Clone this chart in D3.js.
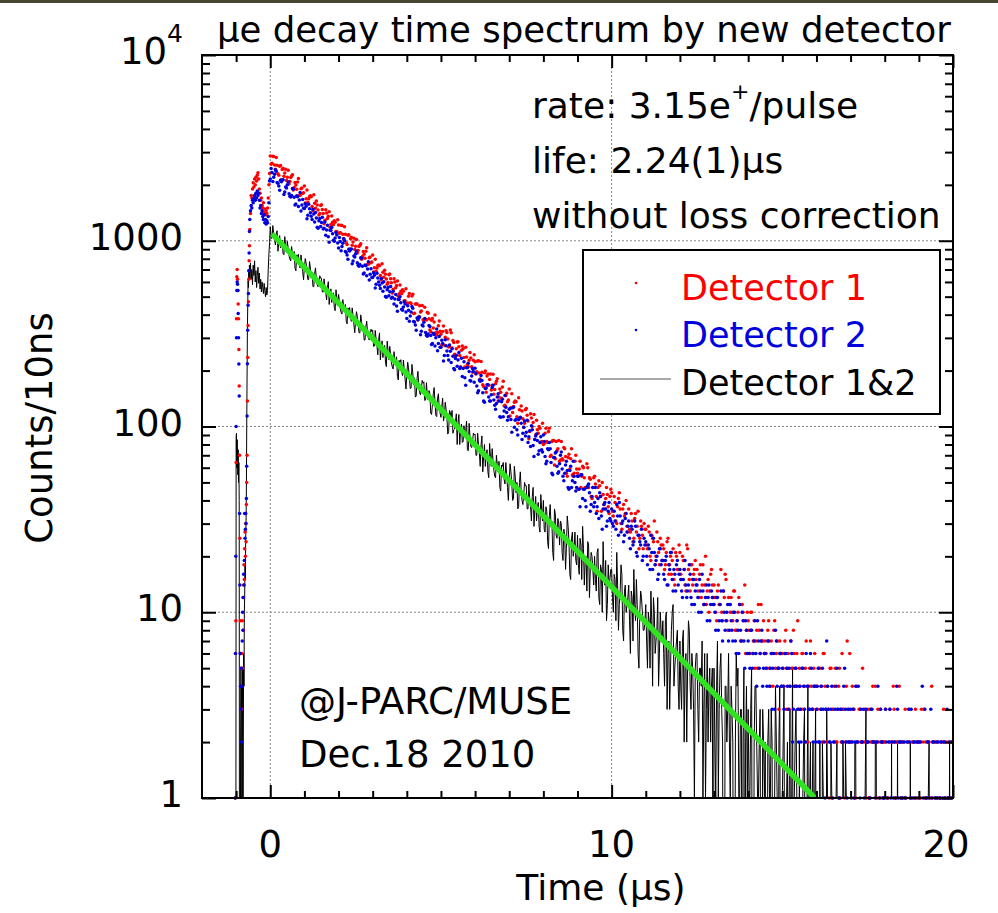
<!DOCTYPE html>
<html><head><meta charset="utf-8">
<script src="https://cdn.jsdelivr.net/npm/d3@7"></script>
<style>body{margin:0;background:#fff;} svg{display:block;font-family:"DejaVu Sans","Open Sans",sans-serif;}</style>
</head><body><svg id="c" width="998" height="913"></svg>
<script>
// ---------- data ----------
const promptT = [-1.04,-1.03,-1.02,-1.01,-1.00,-0.99,-0.98,-0.97,-0.96,-0.95,-0.94,-0.93,-0.92,-0.91,-0.90,
 -0.89,-0.88,-0.87,-0.86,-0.85,-0.84,-0.83,-0.82,-0.81,-0.80,-0.79,-0.78,-0.77,-0.76,-0.75,
 -0.74,-0.73,-0.72,-0.71,-0.70,-0.69,-0.68,-0.67,-0.66,-0.65,-0.64,-0.63,-0.62,-0.61,-0.60,
 -0.58,-0.56,-0.54,-0.52,-0.50,-0.48,-0.46,-0.44,-0.42,-0.40,-0.38,-0.36,-0.34,-0.32,-0.30,
 -0.28,-0.26,-0.24,-0.22,-0.20,-0.18,-0.16,-0.14,-0.12,-0.10,-0.08,-0.06,-0.04,-0.02];
const promptRed = [0,0,1,9,64, 380,640,700,620,540, 456,380,260,165,70, 25,9,6,4,5, 3,6,9,5,12,
 8,14,18,15,22, 27,20,30,24,38, 50,70,137,235,350, 470,620,780,940,1150,
 1400,1750,1700,1900,2050, 1950,2150,2000,2200,2100, 2250,2320,2150,1900,1800,
 1650,1700,1550,1500,1600, 1420,1480,1380,1450,1400, 1500,1700,2000,2300];
const promptBlue = [0,1,6,20,100, 300,540,600,583,540, 406,300,217,146,34, 14,6,4,3,5, 2,4,7,10,8,
 12,16,14,19,34, 25,28,34,30,41, 61,114,218,330,450, 520,690,860,1120,1300,
 1450,1550,1500,1650,1600, 1700,1750,1650,1800,1700, 1850,1750,1800,1650,1500,
 1550,1400,1450,1350,1300, 1380,1250,1300,1230,1280, 1250,1350,1600,2100];
const promptBlack = [0,0,0,0,88, 92,60,85,70,55, 75,50,64,40,0, 0,0,2,5,3, 4,0,3,5,0,
 2,6,4,10,12, 18,15,25,30,45, 100,180,330,450,610, 560,690,640,740,620,
 760,620,700,580,740, 650,780,600,690,560, 650,720,590,670,550,
 620,530,600,560,520, 590,540,500,560,510, 540,700,850,980];

// decay part: two interleaved samplings (t = 0, 0.05, ... and t = 0.025, 0.075, ...)
const decayT0 = 0, decayT0b = 0.025, decayDt = 0.05;
const decayRed = [
 2860,2611,2846,2424,2549,2249,2540,2415,2225,2427, 2198,2021,2191,2269,1936,1995,2070,1758,1908,1794,
 1971,1684,1614,1731,1727,1449,1592,1636,1465,1404, 1563,1402,1289,1411,1355,1183,1361,1220,1256,1121,
 1215,1109,1209,1029,1083,955,1078,1025,945,1030, 934,858,930,964,823,847,879,747,810,761,
 837,715,685,735,734,616,676,694,622,596, 663,595,548,599,575,502,578,518,534,476,
 460,502,464,504,406,457,457,391,413,448, 376,378,412,380,324,382,365,320,321,370,
 314,325,274,328,296,270,320,290,245,262, 286,241,257,262,209,237,210,250,210,227,
 223,197,226,180,196,164,199,187,167,192, 167,149,170,181,144,153,163,129,147,136,
 159,126,119,135,136,104,123,129,110,104, 125,107,94,111,105,85,108,92,98,83,
 80,92,83,94,69,83,84,67,74,84, 66,67,77,69,54,71,67,55,56,70,
 56,59,47,61,53,47,60,53,42,47, 54,42,47,48,35,43,36,47,37,42,
 44,33,39,30,41,36,28,38,34,29, 36,27,31,25,34,29,22,31,26,30,
 28,22,27,19,25,31,20,24,18,23, 23,17,21,25,18,16,22,14,20,17,
 21,15,19,14,23,17,13,18,16,19, 17,12,18,14,11,20,13,10,16,14,
 14,10,13,11,17,9,12,15,8,11, 12,9,13,8,10,11,7,10,14,8,
 9,6,10,7,5,8,11,6,7,9, 7,5,9,4,6,8,5,7,3,6,
 6,4,8,5,3,7,5,6,4,9, 5,3,6,4,7,2,5,4,3,6,
 4,2,5,3,6,4,2,3,5,1, 3,5,2,4,1,6,3,2,7,3,
 2,4,3,1,0,3,2,5,2,1, 3,1,2,4,2,0,3,1,2,2,
 2,0,1,3,2,4,1,2,0,2, 1,2,3,0,2,1,2,0,3,1,
 2,1,0,3,2,1,2,0,1,2, 0,2,1,2,0,1,2,1,0,2];
const decayRedB = [
 2585,2849,2555,2807,2297,2518,2130,2460,2316,2109, 2394,2086,2230,1875,2056,1895,2164,1759,1925,1812,
 1596,1874,1682,1746,1529,1768,1497,1558,1374,1550, 1474,1233,1467,1316,1432,1222,1258,1281,1122,1298,
 1098,1210,1085,1191,976,1069,904,1044,984,896, 1017,886,947,796,874,804,918,747,817,769,
 678,796,714,741,650,751,636,661,583,657, 625,524,624,559,608,519,534,544,476,551,
 462,520,459,515,407,457,374,447,418,376, 439,374,407,331,373,339,398,312,349,326,
 275,348,302,321,268,331,265,283,239,285, 269,210,271,235,267,216,227,234,196,243,
 192,225,194,224,168,195,153,192,179,157, 191,158,175,137,159,142,175,130,151,139,
 114,150,128,137,113,143,111,121,99,123, 115,86,117,100,116,90,96,100,82,104,
 81,98,82,98,70,84,62,83,76,65, 83,66,76,56,68,59,76,54,65,59,
 46,65,54,60,47,63,47,52,41,53, 49,35,51,42,50,38,41,43,34,46,
 35,42,31,37,44,30,36,33,40,27, 28,34,24,32,27,35,25,29,22,28,
 23,29,20,26,24,18,27,21,25,19, 22,18,24,16,20,19,15,21,17,23,
 16,20,17,13,22,15,18,14,17,15, 13,16,12,18,14,11,15,13,17,12,
 12,9,14,11,10,13,16,9,12,10, 10,13,8,9,12,7,11,9,6,10,
 8,10,6,9,7,5,8,11,7,6, 6,8,5,7,4,9,6,5,7,4,
 5,7,3,6,4,5,8,4,6,3, 4,6,3,5,2,4,7,3,5,4,
 3,5,4,2,6,3,4,1,5,3, 4,2,3,5,2,3,1,4,2,6,
 2,3,1,4,2,3,2,0,3,2, 1,3,2,2,4,1,2,3,1,2,
 3,1,2,0,2,3,1,2,4,1, 2,1,0,2,3,1,2,1,2,0,
 1,3,2,1,0,2,1,4,2,1, 2,0,1,2,3,1,0,2,1,2];
const decayBlue = [
 2151,2334,2195,2411,2059,1974,2118,2114,1773,1947, 2000,1792,1718,1912,1715,1577,1726,1656,1447,1665,
 1493,1536,1371,1486,1356,1479,1260,1325,1168,1319, 1255,1156,1260,1141,1050,1138,1178,1005,1036,1075,
 914,991,932,1024,875,838,899,897,752,827, 850,761,730,811,729,670,733,704,614,706,
 634,652,583,631,576,627,535,563,496,560, 532,491,535,485,445,483,500,428,440,456,
 381,422,394,442,368,352,384,385,312,352, 364,321,306,350,309,280,313,300,256,305,
 267,280,241,272,241,275,221,239,202,242, 228,205,233,205,183,207,219,177,187,198,
 206,165,156,175,177,137,160,168,144,137, 162,139,124,144,137,112,140,121,127,108,
 124,109,126,99,109,90,111,104,92,107, 93,82,95,101,79,85,91,71,82,75,
 90,69,65,75,76,56,68,72,61,57, 70,59,51,62,58,46,61,51,54,45,
 54,46,55,41,46,37,48,44,38,47, 39,34,41,44,33,36,39,29,35,32,
 36,29,31,38,26,33,30,24,32,27, 31,22,28,24,29,20,26,23,19,25,
 24,18,22,26,17,21,19,15,22,18, 19,15,20,14,17,21,13,16,18,14,
 17,13,15,19,12,14,16,11,15,13, 14,10,13,16,11,12,9,14,11,12,
 11,8,12,9,13,7,10,9,11,8, 9,7,10,6,8,11,7,9,5,8,
 7,5,8,6,9,4,7,6,8,5, 6,4,7,5,3,6,8,4,5,6,
 5,3,6,4,5,7,2,4,5,3, 4,2,5,3,6,4,3,5,2,4,
 3,5,2,4,3,1,7,3,2,4, 2,3,5,1,3,2,4,3,1,2,
 3,2,1,4,2,0,3,2,1,3, 2,1,3,2,0,2,4,1,2,1,
 1,2,0,3,2,1,2,4,1,2, 2,0,1,2,3,1,0,2,1,2,
 1,2,4,0,1,2,1,3,2,0, 2,1,0,2,1,2,0,1,2,1];
const decayBlueB = [
 2452,2083,2282,2364,2037,1870,2075,2131,1832,1926, 2072,1737,1752,1891,1560,1745,1527,1816,1557,1494,
 1582,1313,1574,1414,1300,1395,1418,1181,1283,1193, 1338,1167,1072,1211,983,1137,1090,995,1107,973,
 1042,884,969,1004,866,794,881,904,778,818, 880,737,744,804,662,740,648,772,661,634,
 672,557,668,600,553,592,602,501,544,506, 568,496,456,514,417,483,463,423,470,413,
 447,369,414,433,365,330,375,389,326,348, 381,310,315,345,276,318,271,335,280,267,
 291,225,293,255,228,254,262,205,232,211, 250,208,186,223,167,208,198,176,205,173,
 193,152,178,188,152,135,161,168,137,148, 167,130,133,150,113,136,113,147,119,113,
 125,93,127,108,96,109,112,85,99,89, 108,88,78,96,69,89,84,74,88,73,
 83,63,76,82,64,55,68,73,56,63, 73,54,56,65,47,58,47,65,50,47,
 54,37,55,46,40,47,49,35,42,37, 47,37,32,42,28,38,36,31,39,31,
 30,35,28,33,39,27,31,26,34,29, 25,29,23,31,21,26,24,28,20,23,
 20,23,17,21,25,18,20,16,22,19, 16,19,14,18,21,15,17,13,19,16,
 15,12,17,14,13,18,12,15,11,14, 12,15,10,13,11,14,12,9,13,11,
 10,12,8,11,9,13,8,10,7,11, 8,10,7,9,6,8,10,7,9,6,
 6,8,5,7,6,9,5,7,4,6, 5,7,4,6,5,3,7,5,6,4,
 4,6,5,3,4,6,3,5,4,2, 3,5,4,2,4,3,6,3,4,2,
 4,2,3,5,2,3,4,2,3,1, 2,4,3,1,3,2,5,2,3,2,
 1,3,2,2,4,1,2,3,0,2, 2,1,3,2,1,2,0,3,2,1,
 3,1,2,1,0,2,1,3,2,1, 1,2,1,0,2,3,1,2,0,2,
 2,0,1,3,1,2,0,1,2,1, 1,2,1,0,2,1,3,1,0,2];
const decayBlack = [
 1192,1036,1087,949,1132,978,917,1003,841,940, 992,830,779,854,876,689,822,743,839,682,
 718,758,618,773,632,566,667,621,566,648, 628,529,568,480,602,506,465,524,420,491,
 514,430,403,442,454,357,426,385,435,353, 371,392,320,399,326,292,345,321,292,334,
 331,271,296,243,319,262,235,273,210,256, 270,220,204,228,237,178,222,197,228,180,
 192,207,160,216,167,144,181,167,148,177, 174,139,148,156,118,131,162,115,142,126,
 112,142,114,124,91,122,112,92,97,117, 105,80,103,83,88,107,74,89,77,92,
 91,70,80,61,89,69,61,75,53,69, 76,58,53,62,65,45,61,52,64,47,
 52,57,40,61,44,36,50,45,38,50, 48,36,41,31,47,36,31,39,27,36,
 40,27,35,22,38,31,19,34,25,30, 31,21,28,17,33,24,15,27,22,19,
 26,16,23,29,14,20,24,12,21,17, 20,13,22,11,17,24,14,9,18,15,
 17,10,15,21,8,13,16,7,14,11, 14,6,12,17,9,11,5,13,10,8,
 11,5,9,13,4,10,7,12,6,8, 9,4,10,6,3,8,11,5,7,4,
 7,3,8,5,2,9,4,6,3,5, 6,2,5,7,3,1,6,4,2,5,
 5,1,7,3,6,2,0,4,3,2, 4,2,0,6,5,1,3,2,0,4,
 3,1,5,0,4,2,1,3,0,2, 2,0,3,1,2,0,4,1,2,0,
 1,4,0,2,1,0,5,1,3,0, 2,0,1,3,0,4,1,0,2,1,
 0,1,2,0,1,0,3,1,0,1, 1,0,2,1,0,0,1,2,0,1,
 0,1,0,2,1,0,0,1,0,3, 1,0,0,1,0,2,0,1,0,0,
 0,1,0,0,2,0,1,0,0,1, 0,0,1,0,0,2,0,0,1,0,
 1,0,0,0,1,0,2,0,0,1, 0,0,1,0,0,0,1,0,2,0];
const decayBlackB = [
 1025,1207,1023,1084,878,1066,975,850,1053,867, 911,796,931,811,713,840,845,713,756,616,
 802,688,619,712,676,566,715,579,595,629, 530,624,529,560,454,551,504,439,545,448,
 472,412,482,419,369,435,437,368,392,320, 415,355,319,367,349,292,369,298,308,325,
 270,329,272,293,228,289,261,222,288,229, 245,209,253,216,186,227,229,188,203,159,
 222,184,161,194,183,146,198,152,159,171, 138,172,139,151,116,150,135,113,150,118,
 128,107,135,112,94,119,122,96,106,80, 116,95,82,101,95,75,104,78,83,90,
 70,92,72,80,57,80,70,57,81,61, 66,54,70,57,47,62,64,49,55,40,
 63,49,41,54,50,37,57,40,43,48, 36,49,37,42,29,42,36,29,43,31,
 28,37,24,33,29,21,36,26,32,23, 30,19,26,22,29,16,25,20,27,18,
 18,25,15,22,19,13,23,17,20,14, 15,21,12,18,10,16,19,11,14,17,
 12,16,9,14,11,18,8,13,10,12, 9,13,7,11,15,6,10,12,8,9,
 7,10,5,9,12,6,8,4,10,7, 6,9,3,7,5,10,4,6,8,3,
 4,7,2,6,5,8,3,5,1,6, 3,5,4,1,6,3,2,5,4,0,
 2,4,1,5,3,0,4,2,6,1, 3,0,2,4,1,3,0,5,2,1,
 1,3,0,2,4,1,2,0,3,1, 0,2,1,3,0,1,2,0,4,1,
 2,0,1,0,3,1,0,2,1,0, 0,1,2,0,1,0,2,1,0,3,
 1,0,0,2,1,0,1,0,2,0, 0,1,0,1,0,2,0,1,0,1,
 1,0,2,0,0,1,0,0,1,0, 0,0,1,0,2,0,0,1,0,1,
 0,1,0,0,0,1,0,2,0,0, 1,0,0,1,0,0,0,1,0,0,
 0,0,1,0,0,1,0,0,0,1, 0,1,0,0,0,0,1,0,0,0];

const fitT = [0.05, 15.95];          // exponential fit (straight on log axis)
const fitV = [1090, 1];

const xMajorTicks = [0, 10, 20];
const xTickLabels = ["0", "10", "20"];
const yMajorTicks = [1, 10, 100, 1000, 10000];
const yTickLabels = ["1", "10", "100", "1000", "10^4"];

const seriesNames = ["Detector 1", "Detector 2", "Detector 1&2"];
const infoLines = ["rate: 3.15e", "life: 2.24(1)\u03bcs", "without loss correction"];
const stampLines = ["@J-PARC/MUSE", "Dec.18 2010"];

// ---------- build ----------
const svg = d3.select("#c");
const L = 202, R = 953, T = 55, B = 798;
const x = d3.scaleLinear().domain([-2, 20]).range([L, R]);
const y = d3.scaleLog().domain([1, 10000]).range([B, T]);

const toPts = (ts, vs) => vs.map((v, i) => ({t: ts[i], v}));
const timesA = decayRed.map((_, i) => +(decayT0 + i * decayDt).toFixed(3));
const timesB = decayRedB.map((_, i) => +(decayT0b + i * decayDt).toFixed(3));
const byT = (a, b) => a.t - b.t;
const redPts = toPts(promptT, promptRed).concat(toPts(timesA, decayRed), toPts(timesB, decayRedB));
const bluePts = toPts(promptT, promptBlue).concat(toPts(timesA, decayBlue), toPts(timesB, decayBlueB));
const blackPts = toPts(promptT, promptBlack).concat(toPts(timesA, decayBlack), toPts(timesB, decayBlackB)).sort(byT);

svg.append("rect").attr("x", 0).attr("y", 0).attr("width", 998).attr("height", 3).attr("fill", "#4a4634");

const defs = svg.append("defs");
defs.append("clipPath").attr("id", "clipLine").append("rect")
  .attr("x", L).attr("y", T).attr("width", R - L).attr("height", B - T);
defs.append("clipPath").attr("id", "clipDots").append("rect")
  .attr("x", L).attr("y", T).attr("width", R - L).attr("height", B - T + 3);

// grid
const grid = svg.append("g").attr("stroke", "#8a8a8a").attr("stroke-width", 1).attr("stroke-dasharray", "2,2");
[0, 10].forEach(v => grid.append("line").attr("x1", x(v)).attr("x2", x(v)).attr("y1", T).attr("y2", B));
[10, 100, 1000].forEach(v => grid.append("line").attr("x1", L).attr("x2", R).attr("y1", y(v)).attr("y2", y(v)));

// black line
const lineGen = d3.line().x(d => x(d.t)).y(d => y(d.v > 0 ? d.v : 0.05));
svg.append("path").datum(blackPts).attr("clip-path", "url(#clipLine)")
  .attr("fill", "none").attr("stroke", "#000").attr("stroke-width", 1).attr("d", lineGen);

// fit
svg.append("path").datum(toPts(fitT, fitV)).attr("clip-path", "url(#clipLine)")
  .attr("fill", "none").attr("stroke", "#2fe31f").attr("stroke-width", 5.5).attr("d", lineGen);

// dots
const dotG = svg.append("g").attr("clip-path", "url(#clipDots)");
dotG.selectAll("circle.r").data(redPts.filter(d => d.v > 0)).join("circle")
  .attr("class", "r").attr("cx", d => x(d.t)).attr("cy", d => y(d.v)).attr("r", 1.75).attr("fill", "#ff0000");
dotG.selectAll("circle.b").data(bluePts.filter(d => d.v > 0)).join("circle")
  .attr("class", "b").attr("cx", d => x(d.t)).attr("cy", d => y(d.v)).attr("r", 1.75).attr("fill", "#0000dd");

// frame
svg.append("rect").attr("x", L).attr("y", T).attr("width", R - L).attr("height", B - T)
  .attr("fill", "none").attr("stroke", "#000").attr("stroke-width", 2);

// ticks via d3 axes
const xMinor = d3.range(-1, 20).filter(v => !xMajorTicks.includes(v));
const yMinor = [];
[1, 10, 100, 1000].forEach(d => { for (let k = 2; k <= 9; k++) yMinor.push(d * k); });
function ticks(axisFn, scale, vals, size, tr) {
  const g = svg.append("g").attr("transform", tr)
    .call(axisFn(scale).tickValues(vals).tickSize(size).tickFormat(""));
  g.select(".domain").remove();
  g.selectAll(".tick line").attr("stroke", "#000").attr("stroke-width", 2);
}
ticks(d3.axisBottom, x, xMajorTicks, -13, `translate(0,${B})`);
ticks(d3.axisBottom, x, xMinor, -7, `translate(0,${B})`);
ticks(d3.axisTop, x, xMajorTicks, -13, `translate(0,${T})`);
ticks(d3.axisTop, x, xMinor, -7, `translate(0,${T})`);
ticks(d3.axisLeft, y, yMajorTicks, -14, `translate(${L},0)`);
ticks(d3.axisLeft, y, yMinor, -8, `translate(${L},0)`);
ticks(d3.axisRight, y, yMajorTicks, -14, `translate(${R},0)`);
ticks(d3.axisRight, y, yMinor, -8, `translate(${R},0)`);

// tick labels
const fs = 37;
xMajorTicks.forEach((v, i) => {
  svg.append("text").attr("x", x(v) - (i === xMajorTicks.length - 1 ? 7 : 0)).attr("y", 857)
    .attr("text-anchor", "middle").attr("font-size", fs).text(xTickLabels[i]);
});
yMajorTicks.forEach((v, i) => {
  const lab = yTickLabels[i];
  const t = svg.append("text").attr("x", 183).attr("y", y(v) + 9).attr("text-anchor", "end").attr("font-size", fs);
  if (lab.includes("^")) {
    const [b, e] = lab.split("^");
    t.append("tspan").text(b);
    t.append("tspan").attr("font-size", 25).attr("dy", -22).text(e);
  } else t.text(lab);
});

// axis titles
svg.append("text").attr("x", 601).attr("y", 900).attr("text-anchor", "middle").attr("font-size", 36).text("Time (\u03bcs)");
svg.append("text").attr("transform", "translate(52,428) rotate(-90)").attr("text-anchor", "middle")
  .attr("font-size", 37).text("Counts/10ns");

// title
svg.append("text").attr("x", 217).attr("y", 42).attr("font-size", 35.5).text("\u03bce decay time spectrum by new detector");

// info text
const info = svg.append("g").attr("font-size", 36);
const r1 = info.append("text").attr("x", 532).attr("y", 118);
r1.append("tspan").text(infoLines[0]);
r1.append("tspan").attr("font-size", 22).attr("dy", -19).text("+");
r1.append("tspan").attr("dy", 19).text("/pulse");
info.append("text").attr("x", 532).attr("y", 173).text(infoLines[1]);
info.append("text").attr("x", 532).attr("y", 228).text(infoLines[2]);

stampLines.forEach((s, i) => svg.append("text").attr("x", 299).attr("y", 714 + i * 53).attr("font-size", 37).text(s));

// legend
const lg = svg.append("g");
lg.append("rect").attr("x", 583).attr("y", 250).attr("width", 357).attr("height", 164)
  .attr("fill", "#fff").attr("stroke", "#000").attr("stroke-width", 2);
const legColors = ["#ff0000", "#0000dd", "#000"];
const legY = [300, 347, 395];
seriesNames.forEach((n, i) => {
  lg.append("text").attr("x", 681).attr("y", legY[i]).attr("font-size", 35).attr("fill", legColors[i]).text(n);
  if (i < 2) lg.append("circle").attr("cx", 636).attr("cy", legY[i] - 17).attr("r", 1.3).attr("fill", legColors[i]);
  else lg.append("line").attr("x1", 600).attr("x2", 671).attr("y1", legY[i] - 16).attr("y2", legY[i] - 16)
    .attr("stroke", "#555").attr("stroke-width", 1);
});
</script></body></html>
